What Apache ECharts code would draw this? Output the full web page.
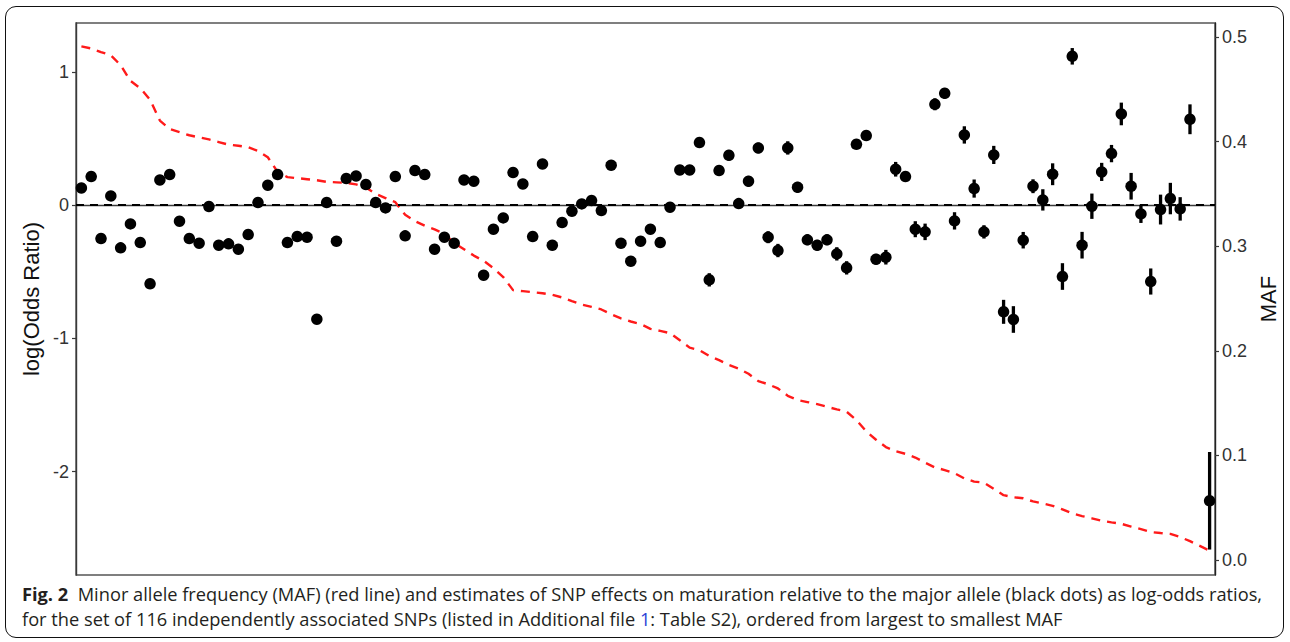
<!DOCTYPE html>
<html>
<head>
<meta charset="utf-8">
<script src="https://cdn.jsdelivr.net/npm/echarts@6/dist/echarts.min.js"></script>
<style>
  html, body { margin: 0; padding: 0; background: #fff; }
  #wrap { position: relative; width: 1290px; height: 642px; overflow: hidden; }
  #frame { position: absolute; left: 5px; top: 6px; width: 1279px; height: 632px; border: 1px solid #111; border-radius: 11px; box-sizing: border-box; }
  #chart { position: absolute; left: 0; top: 0; width: 1290px; height: 642px; }
  .cap { position: absolute; left: 22px; white-space: nowrap; font-family: "Open Sans", "Noto Sans", sans-serif; color: #231f20; line-height: 1; }
  .cap b { font-weight: 700; }
  .lnk { color: #2b3fd6; }
</style>
</head>
<body>
<div id="wrap">
  <div id="frame"></div>
  <div id="chart"></div>
  <div class="cap" id="cap1"><b>Fig. 2</b>&nbsp;&nbsp;Minor allele frequency (MAF) (red line) and estimates of SNP effects on maturation relative to the major allele (black dots) as log-odds ratios,</div>
  <div class="cap" id="cap2">for the set of 116 independently associated SNPs (listed in Additional file <span class="lnk">1</span>: Table S2), ordered from largest to smallest MAF</div>
</div>
<script>
// log(Odds Ratio) estimates, ordered from largest to smallest MAF (null = not drawn)
const logOR = [
  0.13, 0.215, -0.25, 0.07, -0.32, -0.14, -0.28, -0.59, 0.19, 0.23,
  -0.12, -0.25, -0.285, -0.01, -0.30, -0.29, -0.33, -0.22, 0.02, 0.15,
  0.23, -0.28, -0.235, -0.24, -0.855, 0.02, -0.27, 0.20, 0.22, 0.155,
  0.02, -0.02, 0.215, -0.23, 0.26, 0.23, -0.33, -0.24, -0.285, 0.19,
  0.18, -0.525, -0.18, -0.095, 0.245, 0.16, -0.235, 0.31, -0.30, -0.13,
  -0.045, 0.01, 0.035, -0.04, 0.30, -0.285, -0.42, -0.27, -0.18, -0.28,
  -0.015, 0.265, 0.265, 0.47, -0.56, 0.26, 0.375, 0.012, 0.18, 0.43,
  -0.24, -0.34, 0.43, 0.135, -0.26, -0.30, -0.26, -0.365, -0.47, 0.4575,
  0.5225, -0.405, -0.39, 0.27, 0.215, -0.18, -0.20, 0.7575, 0.84, -0.1175,
  0.5275, 0.125, -0.20, 0.3775, -0.80, -0.8575, -0.2625, 0.1425, 0.04, 0.2325,
  -0.535, 1.1175, -0.30, -0.0075, 0.25, 0.3875, 0.685, 0.1425, -0.065, -0.5725,
  -0.0325, 0.05, -0.0275, 0.645, null, -2.218
];
// half-width of the error bar on each estimate
const errHalf = [
  0.02, 0.02, 0.02, 0.02, 0.02, 0.02, 0.02, 0.02, 0.02, 0.02,
  0.02, 0.02, 0.02, 0.02, 0.02, 0.02, 0.02, 0.02, 0.02, 0.02,
  0.022, 0.022, 0.022, 0.022, 0.025, 0.022, 0.022, 0.022, 0.022, 0.022,
  0.025, 0.025, 0.025, 0.025, 0.025, 0.025, 0.025, 0.025, 0.025, 0.025,
  0.025, 0.028, 0.025, 0.025, 0.025, 0.025, 0.025, 0.028, 0.028, 0.028,
  0.028, 0.028, 0.028, 0.028, 0.028, 0.03, 0.03, 0.03, 0.03, 0.03,
  0.03, 0.03, 0.03, 0.04, 0.05, 0.035, 0.04, 0.04, 0.04, 0.04,
  0.045, 0.05, 0.05, 0.04, 0.04, 0.04, 0.04, 0.05, 0.05, 0.035,
  0.035, 0.04, 0.055, 0.055, 0.04, 0.06, 0.062, 0.045, 0.04, 0.065,
  0.065, 0.068, 0.05, 0.068, 0.09, 0.10, 0.062, 0.052, 0.08, 0.082,
  0.10, 0.062, 0.10, 0.095, 0.068, 0.065, 0.085, 0.10, 0.068, 0.098,
  0.112, 0.118, 0.088, 0.112, null, 0.366
];
// minor allele frequency (red dashed line)
const maf = [
  0.491, 0.489, 0.4855, 0.4825, 0.473, 0.458, 0.451, 0.44, 0.42, 0.412,
  0.409, 0.406, 0.404, 0.402, 0.3995, 0.397, 0.396, 0.3945, 0.391, 0.385,
  0.371, 0.366, 0.365, 0.364, 0.363, 0.3615, 0.361, 0.3605, 0.359, 0.356,
  0.35, 0.346, 0.342, 0.33, 0.324, 0.3195, 0.316, 0.312, 0.303, 0.297,
  0.291, 0.286, 0.279, 0.2705, 0.258, 0.257, 0.256, 0.255, 0.2535, 0.251,
  0.2475, 0.2442, 0.242, 0.2395, 0.235, 0.231, 0.228, 0.2255, 0.221, 0.219,
  0.2169, 0.21, 0.203, 0.2006, 0.195, 0.191, 0.1865, 0.183, 0.178, 0.171,
  0.168, 0.164, 0.157, 0.153, 0.151, 0.149, 0.1465, 0.144, 0.1418, 0.1338,
  0.123, 0.115, 0.108, 0.104, 0.1015, 0.098, 0.093, 0.0885, 0.086, 0.083,
  0.078, 0.075, 0.074, 0.068, 0.062, 0.060, 0.059, 0.056, 0.054, 0.0518,
  0.0485, 0.0445, 0.042, 0.0398, 0.0375, 0.036, 0.0346, 0.032, 0.0296, 0.0268,
  0.0258, 0.025, 0.022, 0.018, 0.0135, 0.009
];
const leftTicks = [-2, -1, 0, 1];
const rightTicks = [0, 0.1, 0.2, 0.3, 0.4, 0.5];
const snpIndex = logOR.map((_, i) => i + 1);

const pointData = [];
const barData = [];
snpIndex.forEach((x, i) => {
  if (logOR[i] !== null) {
    pointData.push([x, logOR[i]]);
    barData.push([x, logOR[i] - errHalf[i], logOR[i] + errHalf[i]]);
  }
});
const mafData = snpIndex.map((x, i) => [x, maf[i]]);

const chart = echarts.init(document.getElementById('chart'), null, { renderer: 'svg' });
const axisCol = '#3a3a3a';
const labelFont = 'Liberation Sans, Arial, sans-serif';
chart.setOption({
  animation: false,
  backgroundColor: 'transparent',
  grid: { left: 76, right: 75, top: 23, bottom: 67, show: true, borderColor: '#555', borderWidth: 1.4, containLabel: false },
  xAxis: {
    type: 'value', min: 0.45, max: 116.55,
    axisLine: { show: true, lineStyle: { color: axisCol, width: 1.4 } },
    axisTick: { show: false }, axisLabel: { show: false }, splitLine: { show: false }
  },
  yAxis: [
    {
      type: 'value', position: 'left', min: -2.775, max: 1.3675,
      name: 'log(Odds Ratio)', nameLocation: 'middle', nameGap: 33,
      nameTextStyle: { fontSize: 22, color: '#111', fontFamily: labelFont },
      axisLine: { show: true, onZero: false, lineStyle: { color: axisCol, width: 1.4 } },
      axisTick: { show: true, length: 4, customValues: leftTicks, lineStyle: { color: axisCol, width: 1.2 } },
      axisLabel: { customValues: leftTicks, fontSize: 18, color: '#333', fontFamily: labelFont, margin: 7 },
      splitLine: { show: false }
    },
    {
      type: 'value', position: 'right', min: -0.0143, max: 0.5133,
      name: 'MAF', nameLocation: 'middle', nameGap: 42,
      nameTextStyle: { fontSize: 22, color: '#111', fontFamily: labelFont },
      axisLine: { show: true, onZero: false, lineStyle: { color: '#222', width: 1.4 } },
      axisTick: { show: true, length: 4, customValues: rightTicks, lineStyle: { color: axisCol, width: 1.2 } },
      axisLabel: { customValues: rightTicks, fontSize: 18, color: '#333', fontFamily: labelFont, margin: 7,
        formatter: v => Number(v).toFixed(1) },
      splitLine: { show: false }
    }
  ],
  series: [
    {
      name: 'MAF', type: 'line', yAxisIndex: 1, data: mafData, showSymbol: false, symbol: 'none',
      lineStyle: { color: '#ff1a1a', width: 2.4, type: [9, 7] }, z: 2
    },
    {
      name: 'CI', type: 'custom', yAxisIndex: 0, data: barData, z: 3,
      encode: { x: 0, y: [1, 2] },
      renderItem: function (params, api) {
        const x = api.value(0);
        const p1 = api.coord([x, api.value(1)]);
        const p2 = api.coord([x, api.value(2)]);
        return { type: 'line', shape: { x1: p1[0], y1: p1[1], x2: p2[0], y2: p2[1] },
          style: { stroke: '#000', lineWidth: 3.3 } };
      }
    },
    {
      name: 'log(Odds Ratio)', type: 'scatter', yAxisIndex: 0, data: pointData,
      symbolSize: 11.5, itemStyle: { color: '#000', opacity: 1 }, z: 4,
      markLine: {
        silent: true, symbol: 'none', label: { show: false },
        lineStyle: { color: '#000', type: [8, 6], width: 1.8, opacity: 1 },
        data: [{ yAxis: 0 }]
      }
    }
  ]
});

// fit the caption lines to the reference width
(function () {
  const c1 = document.getElementById('cap1');
  const c2 = document.getElementById('cap2');
  const base = 16;
  c1.style.fontSize = base + 'px';
  const w = c1.getBoundingClientRect().width;
  const fs = base * 1241 / w;
  c1.style.fontSize = fs + 'px';
  c2.style.fontSize = fs + 'px';
  c1.style.top = (602 - fs * 0.93) + 'px';
  c2.style.top = (627 - fs * 0.93) + 'px';
})();
</script>
</body>
</html>
